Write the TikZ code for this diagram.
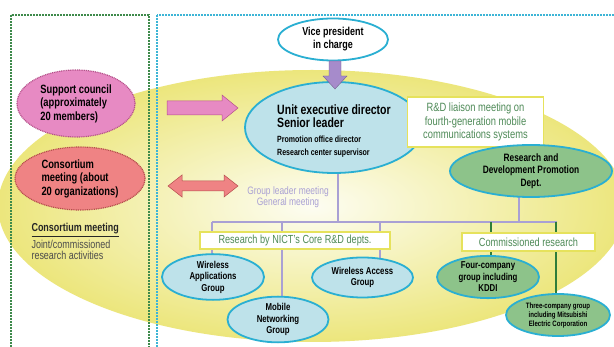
\documentclass[tikz,border=0pt]{standalone}
\usepackage{fontspec}
\setmainfont{Liberation Sans}[FakeStretch=0.78]
\usetikzlibrary{shapes.geometric}
\definecolor{cyanb}{HTML}{2AAFD2}
\definecolor{lightblue}{HTML}{BEE2EA}
\definecolor{greenfill}{HTML}{8DC38A}
\definecolor{yborder}{HTML}{E6E25C}
\definecolor{yin}{HTML}{FDFDF2}
\definecolor{yout}{HTML}{ECE67C}
\definecolor{boxtext}{HTML}{4E8A57}
\definecolor{purpleline}{HTML}{A9A0D4}
\definecolor{purplearrow}{HTML}{A68BCB}
\definecolor{pinkfill}{HTML}{E78AC3}
\definecolor{pinkdraw}{HTML}{B5508A}
\definecolor{salmonfill}{HTML}{EF8384}
\definecolor{salmondraw}{HTML}{B54C4C}
\definecolor{dgreen}{HTML}{2F7D3A}
\definecolor{dotgreen}{HTML}{3E8A4B}
\definecolor{dotcyan}{HTML}{3DB5D6}
\newcommand{\bigfs}{\fontsize{13.5}{13.5}\selectfont}
\newcommand{\smallfs}{\fontsize{9}{12}\selectfont}
\pgfdeclarelayer{back}
\pgfdeclarelayer{lines}
\pgfsetlayers{back,lines,main}
\tikzset{
  ell/.style={ellipse, draw=cyanb, line width=1.8pt, inner sep=0pt, align=center, font=\bfseries\fontsize{10}{11.5}\selectfont},
  blueell/.style={ell, fill=lightblue},
  greenell/.style={ell, fill=greenfill},
  dotell/.style={ellipse, line width=1.2pt, dash pattern=on 1pt off 0.8pt, inner sep=0pt, align=left, font=\bfseries\fontsize{12}{13.5}\selectfont},
  ybox/.style={draw=yborder, line width=1.6pt, fill=white, inner sep=0pt, text=boxtext, font=\fontsize{12}{13.5}\selectfont, align=center},
  dotframe/.style={line width=1.6pt, dash pattern=on 1.6pt off 1.4pt},
  pline/.style={draw=purpleline, line width=2.8pt},
  gline/.style={draw=dgreen, line width=2.4pt},
}
\begin{document}
\begin{tikzpicture}[x=1pt,y=-1pt]
\useasboundingbox (0,0) rectangle (614,347);
\clip (0,0) rectangle (614,347);

\begin{pgfonlayer}{back}
\fill[white] (0,0) rectangle (614,347);
\shade[inner color=yin, outer color=yout] (312,206) ellipse [x radius=314pt, y radius=136pt];
\draw[dotframe, draw=dotgreen] (11,15) rectangle (149,360);
\draw[dotframe, draw=dotcyan] (157,15) rectangle (630,360);
\end{pgfonlayer}

% top
\node[ell, fill=white, minimum width=110pt, minimum height=42pt, font=\bfseries\fontsize{11.5}{13}\selectfont] (vp) at (333,39.5) {Vice president\\in charge};
\node[blueell, minimum width=178pt, minimum height=91pt] (unit) at (334,127.5) {};
\node[align=left, inner sep=0pt, font=\bfseries\bigfs] (unittext) at (334,131) {Unit executive director\\Senior leader\\[1pt]\smallfs Promotion office director\\\smallfs Research center supervisor};
\fill[purplearrow, draw=purplearrow!70!black, line width=0.4pt]
  (329,61) -- (341,61) -- (341,76) -- (347,76) -- (335,89) -- (323,76) -- (329,76) -- cycle;

% left side
\node[dotell, fill=pinkfill, draw=pinkdraw, minimum width=118pt, minimum height=67pt] (sc) at (76,103.5)
  {Support council\\(approximately\\20 members)};
\node[dotell, fill=salmonfill, draw=salmondraw, minimum width=130pt, minimum height=63pt] (cons) at (80,178.5)
  {Consortium\\meeting (about\\20 organizations)};
\node[anchor=west, font=\bfseries\fontsize{11.5}{12}\selectfont, text=black!85] (cmlabel) at (28,230) {\underline{Consortium meeting}};
\node[anchor=west, align=left, font=\fontsize{11.5}{11.5}\selectfont, text=black!70] (jr) at (28,250) {Joint/commissioned\\research activities};

\fill[pinkfill, draw=pinkdraw, line width=0.5pt]
  (167,101) -- (222,101) -- (222,95) -- (238,108) -- (222,121) -- (222,115) -- (167,115) -- cycle;
\fill[salmonfill, draw=salmondraw, line width=0.5pt]
  (168,186) -- (182,175) -- (182,181) -- (224,181) -- (224,175) -- (238,186) -- (224,197) -- (224,191) -- (182,191) -- (182,197) -- cycle;
\node[align=center, text=purpleline, font=\fontsize{10.8}{10.5}\selectfont] (glm) at (288,197) {Group leader meeting\\General meeting};

% right side
\node[ybox, minimum width=136pt, minimum height=50pt] (liaison) at (475.5,122)
  {R\&D liaison meeting on\\fourth-generation mobile\\communications systems};
\node[greenell, minimum width=162pt, minimum height=52pt, font=\bfseries\fontsize{10.7}{12.5}\selectfont] (dept) at (531,171)
  {Research and\\Development Promotion\\Dept.};

% research boxes
\node[ybox, minimum width=190pt, minimum height=17pt, font=\fontsize{11.7}{12}\selectfont] (nict) at (295,240.5) {Research by NICT's Core R\&D depts.};
\node[ybox, minimum width=133pt, minimum height=18pt, font=\fontsize{11.8}{12}\selectfont] (comm) at (528.5,242) {Commissioned research};

% groups
\node[blueell, minimum width=102pt, minimum height=40pt] (wapp) at (213,277) {Wireless\\Applications\\Group};
\node[blueell, minimum width=101pt, minimum height=40pt] (mob) at (278,319.5) {Mobile\\Networking\\Group};
\node[blueell, minimum width=101pt, minimum height=40pt] (wacc) at (362.5,277.5) {Wireless Access\\Group};
\node[greenell, minimum width=102pt, minimum height=40pt] (four) at (488,277) {Four-company\\group including\\KDDI};
\node[greenell, minimum width=104pt, minimum height=42pt, font=\bfseries\fontsize{7.8}{9}\selectfont] (three) at (558,315) {Three-company group\\including Mitsubishi\\Electric Corporation};

% connectors
\coordinate (hl) at (212,222);
\coordinate (hr) at (557,222);
\begin{pgfonlayer}{lines}
\draw[pline] (hl) -- (hr);
\draw[pline] ([xshift=4pt]unit.center) -- ([xshift=4pt]unit.center |- hl);
\draw[pline] ([xshift=-12pt]dept.center) -- ([xshift=-12pt]dept.center |- hl);
\draw[pline] (hl) -- (hl |- wapp.center);
\draw[pline] ([xshift=4pt]mob.center |- hl) -- ([xshift=4pt]mob.center);
\draw[pline] ([xshift=17.5pt]wacc.center |- hl) -- ([xshift=17.5pt]wacc.center);
\draw[gline] ([xshift=3pt]four.center |- hl) -- ([xshift=3pt]four.center);
\draw[gline] ([xshift=-2pt]three.center |- hl) -- ([xshift=-2pt]three.center);
\end{pgfonlayer}
\end{tikzpicture}
\end{document}
